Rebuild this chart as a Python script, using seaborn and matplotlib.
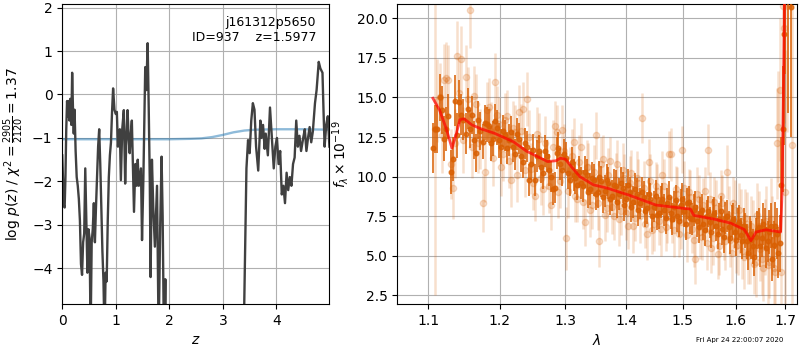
import matplotlib
matplotlib.use("Agg")
import matplotlib.pyplot as plt
import matplotlib.ticker as mticker
import pandas as pd
import seaborn as sns

# ---------------- redshift posterior ----------------
z_grid = [0.000, 0.015, 0.030, 0.045, 0.060, 0.075, 0.090, 0.105, 0.120, 0.135,
          0.150, 0.170, 0.185, 0.200, 0.215, 0.230, 0.250, 0.270, 0.290, 0.310,
          0.330, 0.350, 0.370, 0.390, 0.410, 0.430, 0.450, 0.470, 0.490, 0.510,
          0.530, 0.550, 0.570, 0.590, 0.610, 0.630, 0.650, 0.670, 0.690, 0.710,
          0.730, 0.750, 0.770, 0.790, 0.810, 0.830, 0.850, 0.870, 0.890, 0.910,
          0.930, 0.950, 0.975, 1.000, 1.020, 1.040, 1.060, 1.075, 1.095, 1.120,
          1.150, 1.175, 1.200, 1.220, 1.240, 1.260, 1.280, 1.300, 1.320, 1.340,
          1.365, 1.390, 1.410, 1.430, 1.450, 1.470, 1.490, 1.515, 1.550, 1.570,
          1.595, 1.615, 1.635, 1.650, 1.675, 1.700, 1.730, 1.770, 1.800, 1.830,
          1.855, 1.875, 1.900, 1.925, 1.945, 2.100, 2.500, 3.000, 3.300, 3.390,
          3.440, 3.470, 3.500, 3.530, 3.560, 3.590, 3.620, 3.660, 3.700, 3.720,
          3.750, 3.780, 3.800, 3.840, 3.880, 3.920, 3.950, 3.980, 4.010, 4.040,
          4.070, 4.100, 4.130, 4.160, 4.190, 4.220, 4.250, 4.280, 4.310, 4.340,
          4.370, 4.400, 4.430, 4.460, 4.500, 4.530, 4.560, 4.590, 4.620, 4.650,
          4.680, 4.720, 4.750, 4.790, 4.820, 4.860, 4.880, 4.900, 4.930, 4.960,
          4.990]
log_pz = [-1.40, -2.00, -2.55, -2.60, -1.90, -0.80, -0.15, -0.50, -0.15, -0.60,
          -0.10, -0.70, 0.50, -0.30, -0.90, -0.35, -1.30, -1.90, -2.10, -2.40,
          -2.90, -3.90, -4.15, -3.40, -3.20, -1.70, -2.90, -4.10, -3.10, -3.30,
          -5.50, -3.40, -3.10, -2.50, -3.40, -2.60, -1.90, -1.20, -0.80, -1.60,
          -2.60, -3.60, -4.30, -5.60, -4.10, -4.30, -2.90, -1.90, -1.40, -1.10,
          -0.40, 0.14, -0.35, -0.45, -0.40, -1.20, -0.90, -0.80, -1.97, -0.80,
          -0.36, -2.05, -0.90, -0.36, -1.00, -1.35, -0.90, -0.60, -1.60, -2.70,
          -1.60, -2.10, -1.50, -2.10, -1.90, -1.70, -3.35, -1.95, 0.63, 0.10,
          1.18, -0.30, -2.00, -4.20, -1.50, -2.60, -3.50, -2.10, -5.60, -3.00,
          -1.43, -2.80, -5.80, -4.25, -6.50, -12.0, -15.0, -14.0, -10.0, -5.50,
          -1.70, -1.05, -1.35, -0.60, -0.20, -0.35, -1.20, -1.75, -0.60, -1.00,
          -0.70, -1.25, -0.90, -1.40, -0.30, -1.10, -1.70, -1.20, -1.00, -1.60,
          -1.30, -2.30, -2.10, -2.50, -1.80, -2.20, -1.90, -2.10, -1.60, -1.45,
          -0.60, -1.20, -0.95, -1.30, -1.00, -0.80, -1.30, -1.00, -0.75, -1.10,
          -0.85, -0.20, 0.10, 0.75, 0.60, 0.50, -0.40, -1.20, -0.70, -0.50,
          -1.20]

# prior
z_prior = [0.0, 0.5, 1.0, 1.5, 2.0, 2.4, 2.6, 2.8, 3.0, 3.2, 3.4, 3.6, 4.0, 4.5, 4.99]
log_prior = [-1.03, -1.03, -1.03, -1.03, -1.03, -1.02, -1.01, -0.98, -0.93, -0.87,
             -0.83, -0.81, -0.80, -0.80, -0.81]

# ---------------- 1D spectrum: binned points ----------------
wave_a = [1.106, 1.112, 1.118, 1.124, 1.130, 1.136, 1.142, 1.148, 1.154, 1.160,
          1.166, 1.172, 1.178, 1.184, 1.190, 1.196, 1.202, 1.208, 1.214, 1.220,
          1.226, 1.232, 1.238, 1.244, 1.250, 1.256, 1.262, 1.268, 1.274, 1.280,
          1.286, 1.292, 1.298, 1.304, 1.310, 1.316, 1.322, 1.328, 1.334, 1.340,
          1.346, 1.352, 1.358, 1.364, 1.370, 1.376, 1.382, 1.388, 1.394, 1.400,
          1.406, 1.412, 1.418, 1.424, 1.430, 1.436, 1.442, 1.448, 1.454, 1.460,
          1.466, 1.472, 1.478, 1.484, 1.490, 1.496, 1.502, 1.508, 1.514, 1.520,
          1.526, 1.532, 1.538, 1.544, 1.550, 1.556, 1.562, 1.568, 1.574, 1.580,
          1.586, 1.592, 1.598, 1.604, 1.610, 1.616, 1.622, 1.628, 1.634, 1.640,
          1.646, 1.652, 1.658, 1.664, 1.670, 1.676, 1.682, 1.688, 1.694, 1.700,
          1.706, 1.712]
flux_a = [11.8, 13.0, 14.2, 13.0, 10.3, 14.8, 14.7, 13.6, 14.3, 13.9,
          11.5, 12.9, 13.4, 13.2, 12.4, 13.1, 11.9, 12.6, 12.3, 11.9,
          12.7, 11.3, 12.1, 9.8, 11.7, 11.3, 10.6, 11.6, 10.4, 9.2,
          11.5, 10.8, 11.4, 10.2, 10.9, 9.9, 10.3, 9.4, 10.1, 9.2,
          9.8, 9.0, 9.7, 9.1, 9.6, 8.8, 9.4, 8.9, 9.3, 8.6,
          9.0, 8.4, 8.9, 8.3, 8.7, 8.0, 8.6, 8.1, 7.6, 8.4,
          7.9, 8.3, 7.7, 8.1, 7.5, 8.2, 7.8, 8.3, 7.4, 7.9,
          7.2, 7.7, 7.0, 7.5, 7.1, 7.6, 6.9, 7.3, 6.7, 7.4,
          6.8, 7.2, 6.5, 7.0, 6.3, 6.9, 5.9, 6.4, 5.6, 6.2,
          6.8, 6.1, 6.7, 5.9, 6.9, 5.7, 6.4, 5.8, 13.0, 22.5,
          24.0, 20.7]
err_a = [1.6, 1.5, 1.5, 1.4, 1.4, 1.6, 1.4, 1.3, 1.3, 1.2,
         1.2, 1.2, 1.1, 1.1, 1.1, 1.1, 1.1, 1.0, 1.0, 1.0,
         1.0, 1.0, 1.0, 1.0, 1.0, 1.0, 1.0, 1.0, 1.0, 1.0,
         1.0, 1.0, 1.0, 1.0, 1.0, 1.0, 1.0, 1.0, 1.0, 1.0,
         1.0, 1.0, 1.0, 1.0, 1.0, 1.0, 1.0, 1.0, 1.0, 1.0,
         1.0, 1.0, 1.0, 1.0, 1.0, 1.0, 1.0, 1.0, 1.0, 1.0,
         1.0, 1.0, 1.0, 1.0, 1.0, 1.0, 1.0, 1.0, 1.0, 1.0,
         1.0, 1.0, 1.0, 1.0, 1.0, 1.0, 1.0, 1.0, 1.0, 1.0,
         1.0, 1.0, 1.0, 1.0, 1.1, 1.1, 1.1, 1.1, 1.1, 1.2,
         1.2, 1.2, 1.3, 1.3, 1.4, 1.5, 1.6, 1.8, 4.0, 6.0,
         10.0, 8.2]

wave_a2 = [1.109, 1.115, 1.121, 1.127, 1.133, 1.139, 1.145, 1.151, 1.157, 1.163,
           1.169, 1.175, 1.181, 1.187, 1.193, 1.199, 1.205, 1.211, 1.217, 1.223,
           1.229, 1.235, 1.241, 1.247, 1.253, 1.259, 1.265, 1.271, 1.277, 1.283,
           1.289, 1.295, 1.301, 1.307, 1.313, 1.319, 1.325, 1.331, 1.337, 1.343,
           1.349, 1.355, 1.361, 1.367, 1.373, 1.379, 1.385, 1.391, 1.397, 1.403,
           1.409, 1.415, 1.421, 1.427, 1.433, 1.439, 1.445, 1.451, 1.457, 1.463,
           1.469, 1.475, 1.481, 1.487, 1.493, 1.499, 1.505, 1.511, 1.517, 1.523,
           1.529, 1.535, 1.541, 1.547, 1.553, 1.559, 1.565, 1.571, 1.577, 1.583,
           1.589, 1.595, 1.601, 1.607, 1.613, 1.619, 1.625, 1.631, 1.637, 1.643,
           1.649, 1.655, 1.661, 1.667, 1.673, 1.679, 1.685, 1.691, 1.697]
flux_a2 = [13.0, 15.0, 12.4, 13.8, 11.1, 12.6, 13.9, 12.7, 13.0, 12.3,
           13.6, 12.2, 13.3, 12.1, 13.5, 12.3, 12.9, 11.8, 12.8, 11.4,
           12.4, 10.9, 11.9, 10.8, 9.8, 11.6, 10.2, 11.3, 10.0, 9.3,
           11.8, 10.4, 11.2, 9.8, 10.1, 9.5, 9.6, 10.3, 9.0, 9.9,
           8.9, 10.0, 8.7, 9.8, 8.6, 9.5, 8.4, 9.6, 8.2, 9.5,
           8.1, 9.2, 7.9, 9.0, 7.8, 8.9, 7.5, 8.8, 7.7, 8.6,
           7.4, 8.7, 7.3, 8.5, 7.2, 8.6, 7.0, 8.4, 7.3, 8.1,
           6.8, 7.9, 6.6, 7.8, 6.5, 7.7, 6.4, 7.8, 6.2, 7.5,
           6.1, 7.3, 6.0, 7.1, 5.9, 6.6, 5.2, 6.0, 4.9, 6.6,
           5.6, 7.0, 5.5, 6.5, 4.8, 6.9, 5.2, 9.5, 19.0]
err_a2 = [1.5, 1.5, 1.4, 1.4, 1.4, 1.4, 1.3, 1.3, 1.2, 1.2,
          1.2, 1.1, 1.1, 1.1, 1.1, 1.1, 1.0, 1.0, 1.0, 1.0,
          1.0, 1.0, 1.0, 1.0, 1.0, 1.0, 1.0, 1.0, 1.0, 1.0,
          1.0, 1.0, 1.0, 1.0, 1.0, 1.0, 1.0, 1.0, 1.0, 1.0,
          1.0, 1.0, 1.0, 1.0, 1.0, 1.0, 1.0, 1.0, 1.0, 1.0,
          1.0, 1.0, 1.0, 1.0, 1.0, 1.0, 1.0, 1.0, 1.0, 1.0,
          1.0, 1.0, 1.0, 1.0, 1.0, 1.0, 1.0, 1.0, 1.0, 1.0,
          1.0, 1.0, 1.0, 1.0, 1.0, 1.0, 1.0, 1.0, 1.0, 1.0,
          1.0, 1.0, 1.0, 1.1, 1.1, 1.1, 1.1, 1.2, 1.2, 1.2,
          1.3, 1.3, 1.3, 1.4, 1.4, 1.5, 1.6, 3.0, 7.0]

wave_b = [1.109, 1.115, 1.121, 1.127, 1.133, 1.139, 1.145, 1.151, 1.157, 1.163,
          1.169, 1.175, 1.181, 1.187, 1.193, 1.199, 1.205, 1.211, 1.217, 1.223,
          1.229, 1.235, 1.241, 1.247, 1.253, 1.259, 1.265, 1.271, 1.277, 1.283,
          1.289, 1.295, 1.301, 1.307, 1.313, 1.319, 1.325, 1.331, 1.337, 1.343,
          1.349, 1.355, 1.361, 1.367, 1.373, 1.379, 1.385, 1.391, 1.397, 1.403,
          1.409, 1.415, 1.421, 1.427, 1.433, 1.439, 1.445, 1.451, 1.457, 1.463,
          1.469, 1.475, 1.481, 1.487, 1.493, 1.499, 1.505, 1.511, 1.517, 1.523,
          1.529, 1.535, 1.541, 1.547, 1.553, 1.559, 1.565, 1.571, 1.577, 1.583,
          1.589, 1.595, 1.601, 1.607, 1.613, 1.619, 1.625, 1.631, 1.637, 1.643,
          1.649, 1.655, 1.661, 1.667, 1.673, 1.679, 1.685, 1.691, 1.697, 1.703,
          1.713]
flux_b = [13.0, 15.0, 16.1, 16.1, 9.3, 17.6, 17.4, 16.3, 20.5, 15.1,
          12.1, 8.3, 14.2, 12.9, 16.0, 13.3, 11.4, 13.8, 9.8, 12.8,
          14.1, 14.3, 14.9, 10.5, 8.8, 12.4, 9.2, 10.8, 8.2, 13.2,
          9.0, 12.95, 6.1, 10.4, 12.2, 8.6, 11.9, 7.1, 10.6, 8.2,
          12.6, 5.9, 11.1, 8.0, 11.0, 7.5, 10.8, 7.8, 9.9, 6.9,
          10.2, 7.4, 9.6, 13.7, 7.0, 10.9, 6.6, 9.4, 7.2, 10.1,
          6.8, 11.4, 7.3, 9.2, 6.4, 11.7, 7.6, 9.0, 6.7, 4.8,
          8.6, 6.2, 9.1, 11.7, 5.5, 8.4, 5.1, 8.8, 6.3, 10.3,
          6.0, 8.3, 5.6, 7.9, 5.3, 7.4, 5.0, 6.9, 4.5, 7.6,
          5.4, 4.25, 7.2, 4.6, 6.3, 4.0, 13.15, 4.0, 19.4, 20.8,
          12.0]
err_b = [10.5, 2.2, 2.3, 2.2, 2.0, 2.2, 2.1, 2.0, 2.4, 1.9,
         1.9, 1.8, 1.8, 1.8, 1.8, 1.7, 1.7, 1.7, 1.7, 1.7,
         1.7, 1.7, 1.7, 1.6, 1.6, 1.6, 1.6, 1.6, 1.6, 1.6,
         1.6, 1.6, 2.0, 1.5, 1.5, 1.5, 1.5, 1.5, 1.5, 1.5,
         1.5, 1.6, 1.5, 1.5, 1.5, 1.5, 1.5, 1.5, 1.5, 1.5,
         1.5, 1.5, 1.5, 1.6, 1.5, 1.5, 1.5, 1.5, 1.5, 1.5,
         1.5, 1.5, 1.5, 1.5, 1.5, 1.5, 1.5, 1.5, 1.5, 1.6,
         1.5, 1.5, 1.5, 1.6, 1.6, 1.6, 1.6, 1.6, 1.6, 1.7,
         1.7, 1.7, 1.7, 1.7, 1.8, 1.8, 1.8, 1.9, 1.9, 2.0,
         2.0, 2.1, 2.2, 2.3, 2.5, 2.8, 3.5, 4.5, 6.0, 8.0,
         11.0]

wave_b2 = [1.112, 1.118, 1.124, 1.130, 1.136, 1.142, 1.148, 1.154, 1.160, 1.166,
           1.172, 1.178, 1.184, 1.190, 1.196, 1.202, 1.208, 1.214, 1.220, 1.226,
           1.232, 1.238, 1.244, 1.250, 1.256, 1.262, 1.268, 1.274, 1.280, 1.286,
           1.292, 1.298, 1.304, 1.310, 1.316, 1.322, 1.328, 1.334, 1.340, 1.346,
           1.352, 1.358, 1.364, 1.370, 1.376, 1.382, 1.388, 1.394, 1.400, 1.406,
           1.412, 1.418, 1.424, 1.430, 1.436, 1.442, 1.448, 1.454, 1.460, 1.466,
           1.472, 1.478, 1.484, 1.490, 1.496, 1.502, 1.508, 1.514, 1.520, 1.526,
           1.532, 1.538, 1.544, 1.550, 1.556, 1.562, 1.568, 1.574, 1.580, 1.586,
           1.592, 1.598, 1.604, 1.610, 1.616, 1.622, 1.628, 1.634, 1.640, 1.646,
           1.652, 1.658, 1.664, 1.670, 1.676, 1.682, 1.688, 1.694, 1.700]
flux_b2 = [14.8, 12.6, 16.2, 10.8, 12.1, 15.3, 12.3, 14.9, 11.9, 14.6,
           12.4, 10.3, 14.4, 11.2, 13.9, 10.6, 13.6, 11.0, 13.1, 10.1,
           12.9, 10.4, 12.5, 9.6, 12.7, 9.9, 12.1, 9.4, 11.9, 12.8,
           9.7, 11.6, 9.1, 11.3, 8.8, 10.9, 8.4, 10.6, 7.9, 10.3,
           8.3, 10.8, 7.6, 10.1, 8.1, 9.8, 7.3, 10.4, 7.7, 9.6,
           6.9, 9.9, 7.5, 9.3, 6.4, 9.7, 7.0, 9.1, 6.7, 9.4,
           7.5, 11.4, 6.6, 8.9, 7.1, 9.3, 6.3, 8.7, 6.0, 8.9,
           6.5, 8.2, 5.8, 8.6, 6.1, 8.0, 5.6, 8.3, 5.9, 7.6,
           5.2, 7.9, 5.7, 7.2, 4.9, 7.0, 5.3, 6.4, 4.6, 6.9,
           4.8, 6.2, 4.4, 7.3, 4.2, 12.1, 15.5, 20.8, 9.0]
err_b2 = [2.6, 2.4, 2.3, 2.2, 2.2, 2.1, 2.1, 2.0, 2.0, 1.9,
          1.9, 1.9, 1.8, 1.8, 1.8, 1.8, 1.7, 1.7, 1.7, 1.7,
          1.7, 1.7, 1.7, 1.7, 1.7, 1.7, 1.7, 1.7, 1.7, 1.7,
          1.7, 1.7, 1.7, 1.7, 1.7, 1.7, 1.7, 1.7, 1.7, 1.7,
          1.7, 1.7, 1.7, 1.7, 1.7, 1.7, 1.7, 1.7, 1.7, 1.7,
          1.7, 1.7, 1.7, 1.7, 1.7, 1.7, 1.7, 1.7, 1.7, 1.7,
          1.7, 1.7, 1.7, 1.7, 1.7, 1.7, 1.7, 1.7, 1.7, 1.7,
          1.7, 1.7, 1.7, 1.7, 1.7, 1.8, 1.8, 1.8, 1.8, 1.8,
          1.9, 1.9, 1.9, 2.0, 2.0, 2.0, 2.1, 2.1, 2.2, 2.2,
          2.3, 2.4, 2.5, 2.6, 2.8, 3.5, 4.5, 6.0, 9.0]

# best-fit model
wave_model = [1.106, 1.115, 1.124, 1.132, 1.138, 1.143, 1.149, 1.160, 1.174, 1.192,
              1.220, 1.240, 1.272, 1.285, 1.292, 1.300, 1.310, 1.323, 1.345, 1.368,
              1.403, 1.452, 1.500, 1.514, 1.520, 1.560, 1.590, 1.617, 1.630, 1.640,
              1.660, 1.690, 1.693, 1.696, 1.699]
flux_model = [14.95, 14.20, 13.05, 11.80, 12.70, 13.60, 13.65, 13.26, 13.00, 12.74,
              12.20, 11.60, 10.95, 11.00, 11.16, 11.10, 10.60, 10.00, 9.48, 9.27,
              8.85, 8.20, 8.00, 7.95, 7.55, 7.30, 7.06, 6.65, 5.95, 6.50,
              6.64, 6.50, 9.00, 16.0, 24.0]

redshift = 1.5977
obj_id = 937
root = "j161312p5650"
chi2_num, chi2_den = 2905, 2120
timestamp = "Fri Apr 24 22:00:07 2020"

spec_color = "#d95f02"

fig = plt.figure(figsize=(8, 3.5), dpi=100)
ax1 = fig.add_axes([0.0778, 0.1314, 0.334, 0.857])
ax2 = fig.add_axes([0.4966, 0.1314, 0.4996, 0.857])

# ---- left: log p(z) ----
pz_df = pd.DataFrame({"z": z_grid, "logp": log_pz})
prior_df = pd.DataFrame({"z": z_prior, "logp": log_prior})
sns.lineplot(data=prior_df, x="z", y="logp", ax=ax1, color="tab:blue",
             alpha=0.5, linewidth=1.7, estimator=None, sort=False)
sns.lineplot(data=pz_df, x="z", y="logp", ax=ax1, color="0.25",
             linewidth=1.7, estimator=None, sort=False)
ax1.set_xlim(0, 4.99)
ax1.set_ylim(max(log_pz) - 6, max(log_pz) + 0.9)
ax1.set_xticks([0, 1, 2, 3, 4])
ax1.grid(True)
ax1.set_xlabel(r"$z$")
ax1.set_ylabel(r"log $p(z)$ / $\chi^2=\frac{%d}{%d}=%.2f$"
               % (chi2_num, chi2_den, chi2_num / chi2_den))
ax1.text(0.95, 0.96, root + "\n" + "ID={0:<5d}  z={1:.4f}".format(obj_id, redshift),
         ha="right", va="top", transform=ax1.transAxes, fontsize=9)

# ---- right: spectrum ----
for w, f, e in [(wave_b, flux_b, err_b), (wave_b2, flux_b2, err_b2)]:
    ax2.errorbar(w, f, yerr=e, color=spec_color, alpha=0.2, marker="o",
                 markersize=4.5, linestyle="none", elinewidth=1.8, zorder=2)
for w, f, e in [(wave_a, flux_a, err_a), (wave_a2, flux_a2, err_a2)]:
    ax2.errorbar(w, f, yerr=e, color=spec_color, alpha=0.8, marker="o",
                 markersize=3.3, linestyle="none", elinewidth=1.4, zorder=3)
model_df = pd.DataFrame({"wave": wave_model, "flux": flux_model})
sns.lineplot(data=model_df, x="wave", y="flux", ax=ax2, color="r", alpha=0.7,
             linewidth=2, estimator=None, sort=False, zorder=4)
ax2.set_xscale("log")
ax2.set_xlim(1.059, 1.724)
ax2.set_ylim(1.95, 20.9)
ax2.xaxis.set_major_locator(mticker.FixedLocator([1.1, 1.2, 1.3, 1.4, 1.5, 1.6, 1.7]))
ax2.xaxis.set_major_formatter(mticker.FormatStrFormatter("%.1f"))
ax2.xaxis.set_minor_locator(mticker.NullLocator())
ax2.set_yticks([2.5, 5.0, 7.5, 10.0, 12.5, 15.0, 17.5, 20.0])
ax2.grid(True)
ax2.set_xlabel(r"$\lambda$")
ax2.set_ylabel(r"$f_\lambda \times 10^{-19}$")

fig.text(0.979, 0.02, timestamp, ha="right", va="bottom", fontsize=5)

fig.savefig("out.png", dpi=100)
